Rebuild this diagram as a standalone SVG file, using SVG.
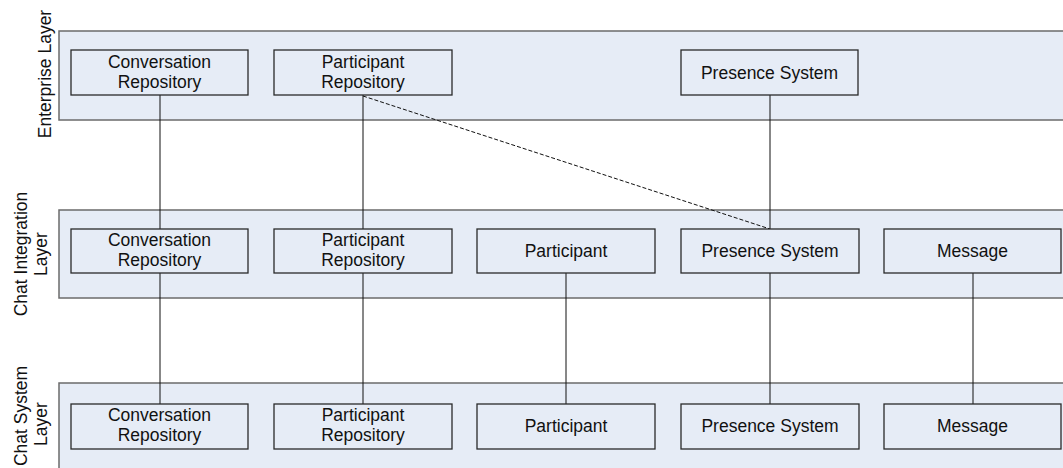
<svg xmlns="http://www.w3.org/2000/svg" width="1063" height="468" viewBox="0 0 1063 468">
  <style>
    .layer { fill: #e6ecf6; stroke: #6b6b6b; stroke-width: 1.5; }
    .box { fill: #e6ecf6; stroke: #2a2a2a; stroke-width: 1.3; }
    .lbl { font-family: "Liberation Sans", Arial, sans-serif; font-size: 17.5px; fill: #111; text-anchor: middle; }
    .link { stroke: #111; stroke-width: 1; fill: none; }
    .dash { stroke: #111; stroke-width: 1; fill: none; stroke-dasharray: 4 2; }
  </style>
  <rect width="1063" height="468" fill="#ffffff"/>

  <!-- layer bands -->
  <g id="enterprise-layer">
    <rect class="layer" x="59" y="31" width="1020" height="89"/>
    <text class="lbl" transform="translate(51,74) rotate(-90)">Enterprise Layer</text>
  </g>
  <g id="chat-integration-layer">
    <rect class="layer" x="59" y="210" width="1020" height="88"/>
    <text class="lbl" transform="translate(27,254) rotate(-90)">Chat Integration</text>
    <text class="lbl" transform="translate(47,254) rotate(-90)">Layer</text>
  </g>
  <g id="chat-system-layer">
    <rect class="layer" x="59" y="383" width="1020" height="100"/>
    <text class="lbl" transform="translate(27,416) rotate(-90)">Chat System</text>
    <text class="lbl" transform="translate(47,424) rotate(-90)">Layer</text>
  </g>

  <!-- connectors -->
  <g id="connectors">
    <line class="link" x1="160" y1="95" x2="160" y2="229"/>
    <line class="link" x1="363" y1="95" x2="363" y2="229"/>
    <line class="link" x1="770" y1="95" x2="770" y2="229"/>
    <line class="dash" x1="363" y1="96" x2="770" y2="229"/>
    <line class="link" x1="160" y1="273" x2="160" y2="404"/>
    <line class="link" x1="363" y1="273" x2="363" y2="404"/>
    <line class="link" x1="566" y1="273" x2="566" y2="404"/>
    <line class="link" x1="770" y1="273" x2="770" y2="404"/>
    <line class="link" x1="973" y1="273" x2="973" y2="404"/>
  </g>

  <!-- enterprise nodes -->
  <g id="ent-conversation-repository">
    <rect class="box" x="71" y="50" width="177" height="45"/>
    <text class="lbl" x="159.5" y="68">Conversation</text>
    <text class="lbl" x="159.5" y="88">Repository</text>
  </g>
  <g id="ent-participant-repository">
    <rect class="box" x="274" y="50" width="178" height="45"/>
    <text class="lbl" x="363" y="68">Participant</text>
    <text class="lbl" x="363" y="88">Repository</text>
  </g>
  <g id="ent-presence-system">
    <rect class="box" x="681" y="50" width="177" height="45"/>
    <text class="lbl" x="769.5" y="78.5">Presence System</text>
  </g>

  <!-- chat integration nodes -->
  <g id="int-conversation-repository">
    <rect class="box" x="71" y="229" width="177" height="44"/>
    <text class="lbl" x="159.5" y="246">Conversation</text>
    <text class="lbl" x="159.5" y="266">Repository</text>
  </g>
  <g id="int-participant-repository">
    <rect class="box" x="274" y="229" width="178" height="44"/>
    <text class="lbl" x="363" y="246">Participant</text>
    <text class="lbl" x="363" y="266">Repository</text>
  </g>
  <g id="int-participant">
    <rect class="box" x="477" y="229" width="178" height="44"/>
    <text class="lbl" x="566" y="257">Participant</text>
  </g>
  <g id="int-presence-system">
    <rect class="box" x="681" y="229" width="178" height="44"/>
    <text class="lbl" x="770" y="257">Presence System</text>
  </g>
  <g id="int-message">
    <rect class="box" x="884" y="229" width="177" height="44"/>
    <text class="lbl" x="972.5" y="257">Message</text>
  </g>

  <!-- chat system nodes -->
  <g id="sys-conversation-repository">
    <rect class="box" x="71" y="404" width="177" height="45"/>
    <text class="lbl" x="159.5" y="421">Conversation</text>
    <text class="lbl" x="159.5" y="441">Repository</text>
  </g>
  <g id="sys-participant-repository">
    <rect class="box" x="274" y="404" width="178" height="45"/>
    <text class="lbl" x="363" y="421">Participant</text>
    <text class="lbl" x="363" y="441">Repository</text>
  </g>
  <g id="sys-participant">
    <rect class="box" x="477" y="404" width="178" height="45"/>
    <text class="lbl" x="566" y="432">Participant</text>
  </g>
  <g id="sys-presence-system">
    <rect class="box" x="681" y="404" width="178" height="45"/>
    <text class="lbl" x="770" y="432">Presence System</text>
  </g>
  <g id="sys-message">
    <rect class="box" x="884" y="404" width="177" height="45"/>
    <text class="lbl" x="972.5" y="432">Message</text>
  </g>
</svg>
